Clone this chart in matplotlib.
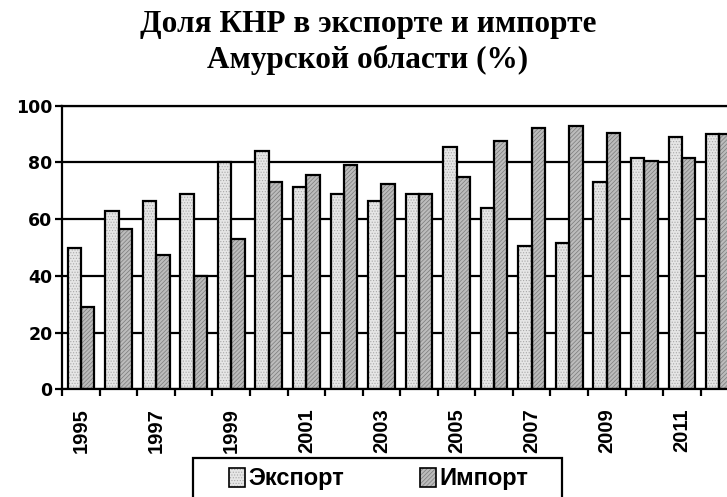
import numpy as np
import matplotlib
matplotlib.use("Agg")
import matplotlib.pyplot as plt
from matplotlib.patches import Rectangle

years = list(range(1995, 2013))
export_share = [50, 63, 66.5, 69, 80, 84, 71.5, 69, 66.5, 69, 85.5, 64, 50.5, 51.5, 73, 81.5, 89, 90]
import_share = [29, 56.5, 47.5, 40, 53, 73, 75.5, 79, 72.5, 69, 75, 87.5, 92, 93, 90.5, 80.5, 81.5, 90]
labels = ["Экспорт", "Импорт"]
title_lines = ["Доля КНР в экспорте и импорте", "Амурской области (%)"]

W, H = 727, 497
plt.rcParams['hatch.linewidth'] = 0.5

fig = plt.figure(figsize=(W / 100, H / 100), dpi=100)
ax = fig.add_axes([62.3 / W, (H - 389.3) / H, 675.9 / W, 283.6 / H])

x = np.arange(len(years))
bw = 0.355
exp_fill = dict(color='#e6e6e6', hatch='......', edge='#a8a8a8')
imp_fill = dict(color='#bcbcbc', hatch='////////', edge='#7a7a7a')

# filled + hatched bars, then black outlines on top
for off, vals, st in [(-bw / 2, export_share, exp_fill), (bw / 2, import_share, imp_fill)]:
    ax.bar(x + off, vals, bw, color=st['color'], hatch=st['hatch'],
           edgecolor=st['edge'], linewidth=0, zorder=2)
    ax.bar(x + off, vals, bw, fill=False, edgecolor='black', linewidth=1.6, zorder=3)

ax.set_xlim(-0.5, len(years) - 0.5)
ax.set_ylim(0, 100)
ax.set_yticks(range(0, 101, 20))
ax.yaxis.grid(True, color='black', linewidth=1.6, zorder=0)
ax.set_axisbelow(True)

ax.spines['right'].set_visible(False)
for s in ['left', 'bottom', 'top']:
    ax.spines[s].set_linewidth(1.6)

# year labels at centres (every second year), tick marks at boundaries
ax.set_xticks(x)
ax.set_xticklabels([str(y) if y % 2 == 1 else '' for y in years], rotation=90,
                   fontfamily='Liberation Sans', fontweight='bold', fontsize=14.5)
ax.set_xticks(np.arange(-0.5, len(years)), minor=True)
ax.tick_params(axis='x', which='major', length=0, pad=13.5)
ax.tick_params(axis='x', which='minor', length=5, width=1.6, direction='out')
ax.tick_params(axis='y', length=5, width=1.6, pad=2)
for t in ax.get_yticklabels():
    t.set_fontfamily('DejaVu Sans')
    t.set_fontweight('bold')
    t.set_fontsize(12.5)

# title
for i, yb in enumerate([32, 68]):
    fig.text(0.506, 1 - yb / H, title_lines[i], ha='center', va='baseline',
             fontfamily='Liberation Serif', fontweight='bold', fontsize=22.5)

# legend box, partly cut by the bottom edge
def px(xp, yp):
    return xp / W, 1 - yp / H

fig.patches.append(Rectangle(px(193, 505), (562 - 193) / W, (505 - 458) / H,
                             transform=fig.transFigure, fill=False,
                             edgecolor='black', linewidth=1.6))
for lx, st, lab in [(229, exp_fill, labels[0]), (420, imp_fill, labels[1])]:
    fig.patches.append(Rectangle(px(lx, 487), 16 / W, 19 / H, transform=fig.transFigure,
                                 facecolor=st['color'], hatch=st['hatch'],
                                 edgecolor=st['edge'], linewidth=0))
    fig.patches.append(Rectangle(px(lx, 487), 16 / W, 19 / H, transform=fig.transFigure,
                                 fill=False, edgecolor='black', linewidth=1.2))
    fig.text(*px(lx + 19, 485.5), lab, ha='left', va='baseline',
             fontfamily='Liberation Sans', fontweight='bold', fontsize=17)

fig.savefig('out.png', dpi=100)
